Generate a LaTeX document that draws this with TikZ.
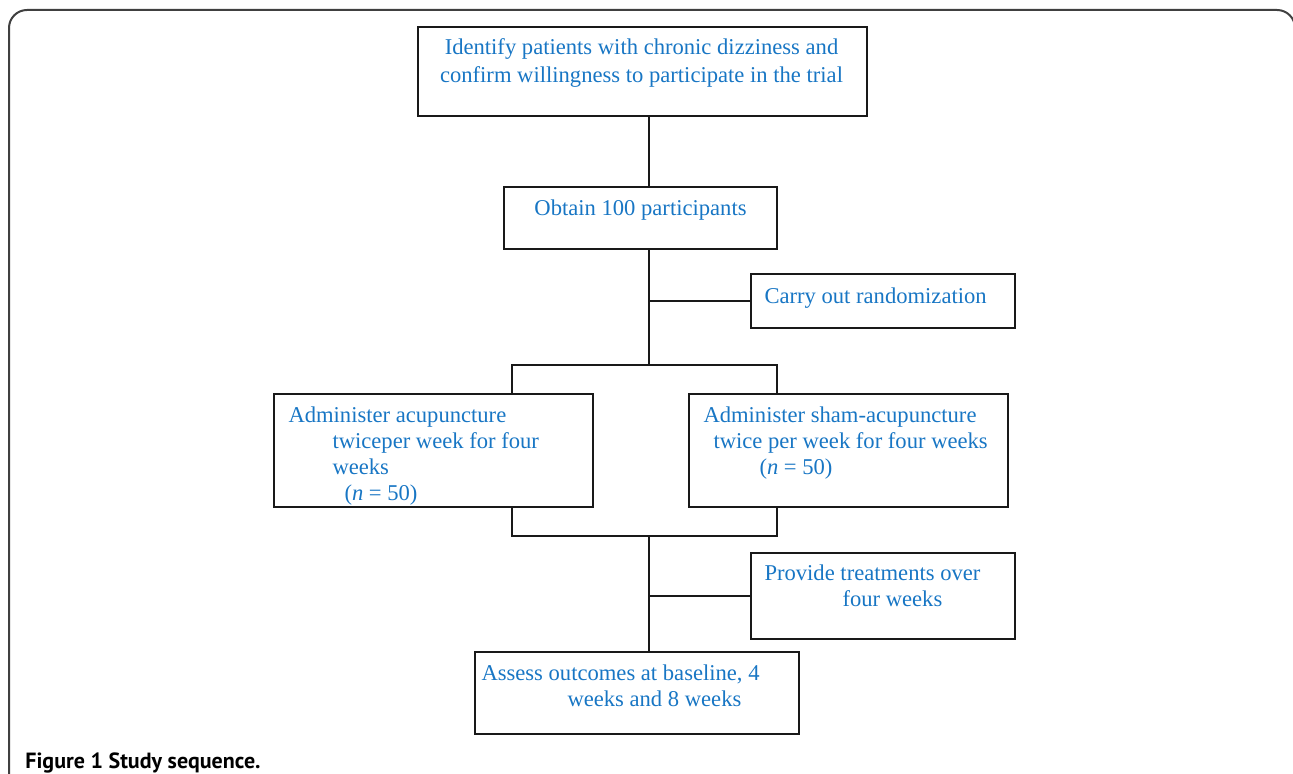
\documentclass[tikz,border=0pt]{standalone}
\usepackage{fontspec}
\setmainfont{Liberation Serif}
\setsansfont{PT Sans}
\usepackage{tikz}
\usetikzlibrary{positioning, calc}
\definecolor{txtblue}{RGB}{24,118,196}
\tikzset{
    stepbox/.style={draw=black!90, line width=0.9pt, rectangle, inner sep=0pt},
    steptxt/.style={text=txtblue, font=\fontsize{11.3}{13}\selectfont, inner sep=0pt, align=left, anchor=north west},
    link/.style={draw=black!90, line width=0.9pt},
    frame/.style={draw=black!75, line width=1pt, rounded corners=9},
    capt/.style={font=\sffamily\bfseries\fontsize{11}{13}\selectfont, inner sep=0pt, anchor=base west},
}

\begin{document}
\begin{tikzpicture}[x=0.5pt, y=-0.5pt]
    \useasboundingbox (0,0) rectangle (1293,774);
    \draw[frame] (9,800) -- (9,10) -- (1295,10) -- (1295,800);

    % boxes
    \node[stepbox, minimum width=224.5pt, minimum height=44.5pt] (ident) at (642.5,71.5) {};
    \node[stepbox, minimum width=136.5pt, minimum height=31pt] (obtain) at (640.5,218) {};
    \node[stepbox, minimum width=132pt, minimum height=27pt] (rand) at (883,301) {};
    \node[stepbox, minimum width=159.5pt, minimum height=56.5pt] (acu) at (433.5,450.5) {};
    \node[stepbox, minimum width=159.5pt, minimum height=56.5pt] (sham) at (848.5,450.5) {};
    \node[stepbox, minimum width=132pt, minimum height=43pt] (prov) at (883,596) {};
    \node[stepbox, minimum width=162pt, minimum height=41pt] (assess) at (637,693) {};

    % texts
    \node[steptxt, align=center, anchor=north, font=\fontsize{11.3}{14}\selectfont] (identtxt) at ($(ident.north)+(-1,12)$)
        {Identify patients with chronic dizziness and\\ confirm willingness to participate in the trial};
    \node[steptxt, anchor=north] (obtaintxt) at ($(obtain.north)+(0,13)$) {Obtain 100 participants};
    \node[steptxt] (randtxt) at ($(rand.north west)+(14,14)$) {Carry out randomization};
    \node[steptxt] (acutxt) at ($(acu.north west)+(15,13)$)
        {Administer acupuncture\\ \hspace*{22pt}twiceper week for four\\ \hspace*{22pt}weeks\\ \hspace*{28pt}(\textit{n} = 50)};
    \node[steptxt] (shamtxt) at ($(sham.north west)+(15,13)$)
        {Administer sham-acupuncture\\ \hspace*{5pt}twice per week for four weeks\\ \hspace*{28pt}(\textit{n} = 50)};
    \node[steptxt] (provtxt) at ($(prov.north west)+(14,12)$)
        {Provide treatments over\\ \hspace*{39pt}four weeks};
    \node[steptxt] (assesstxt) at ($(assess.north west)+(7,13)$)
        {Assess outcomes at baseline, 4\\ \hspace*{43pt}weeks and 8 weeks};

    % connectors
    \coordinate (spine) at (649,0);
    \coordinate (split) at (649,365);
    \coordinate (splitL) at (512,365);
    \coordinate (splitR) at (777,365);
    \coordinate (merge) at (649,536);
    \coordinate (mergeL) at (512,536);
    \coordinate (mergeR) at (777,536);
    \draw[link] (ident.south -| spine) -- (obtain.north -| spine);
    \draw[link] (obtain.south -| spine) -- (split);
    \draw[link] (rand.west -| spine) -- (rand.west);
    \draw[link] (acu.north -| splitL) -- (splitL) -- (splitR) -- (sham.north -| splitR);
    \draw[link] (acu.south -| mergeL) -- (mergeL) -- (mergeR) -- (sham.south -| mergeR);
    \draw[link] (merge) -- (assess.north -| merge);
    \draw[link] (prov.west -| merge) -- (prov.west);

    \node[capt] (caption) at (25,768) {Figure 1 Study sequence.};
\end{tikzpicture}
\end{document}
